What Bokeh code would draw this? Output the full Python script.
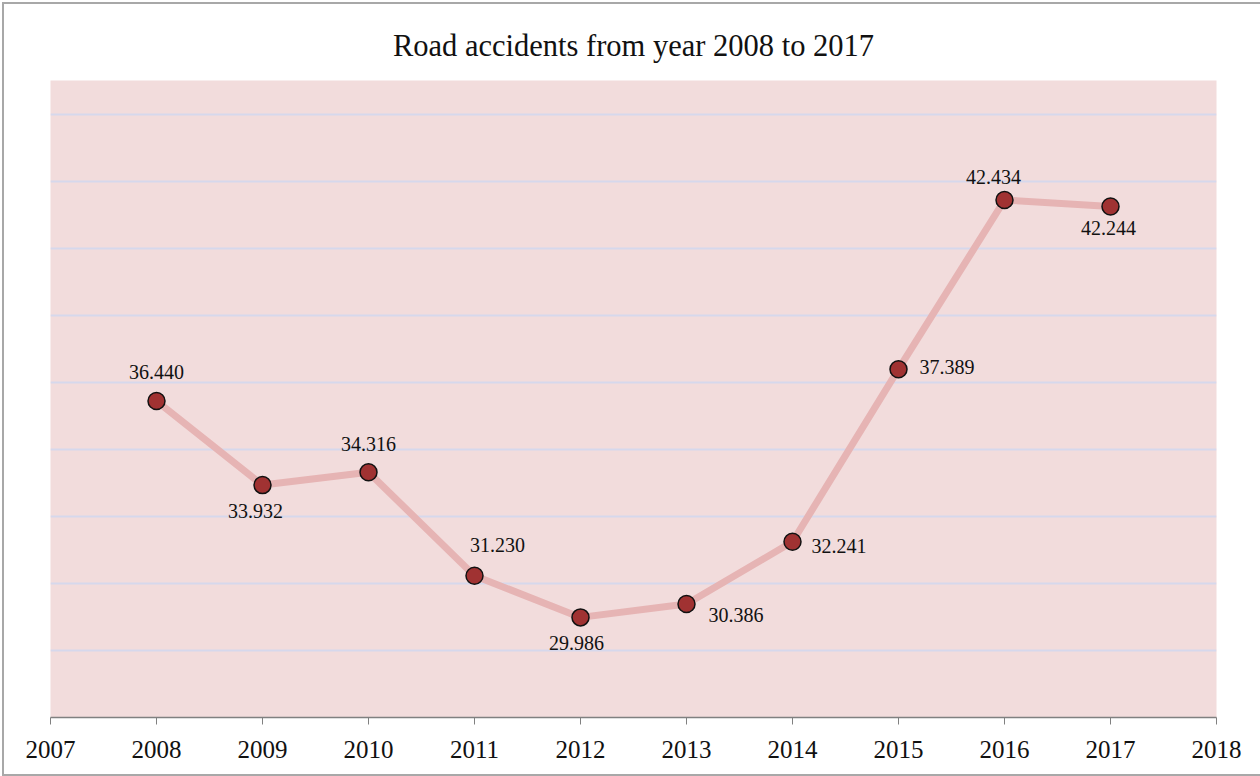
from bokeh.plotting import figure
from bokeh.models import ColumnDataSource, FixedTicker, Title, InlineStyleSheet
from bokeh.core.properties import value
from bokeh.embed import file_html
from bokeh.resources import INLINE

# ---- data ----
years = [2008, 2009, 2010, 2011, 2012, 2013, 2014, 2015, 2016, 2017]
accidents = [36.440, 33.932, 34.316, 31.230, 29.986, 30.386, 32.241, 37.389, 42.434, 42.244]
x_ticks = [2007, 2008, 2009, 2010, 2011, 2012, 2013, 2014, 2015, 2016, 2017, 2018]
grid_levels = [29, 31, 33, 35, 37, 39, 41, 43, 45]

# ---- label placement (screen px, styling only) ----
label_dx = [0, -7, 0, 23, -4, 22, 19, 21, -11, -2]
label_dy = [-29, 26, -28, -31, 26, 11, 4, -2, -23, 22]
label_align = ["center", "center", "center", "center", "center", "left", "left", "left", "center", "center"]

labels = ["%.3f" % v for v in accidents]

src = ColumnDataSource(dict(x=years, y=accidents, txt=labels,
                            dx=label_dx, dy=label_dy, al=label_align))

SERIF = "Liberation Serif"

p = figure(width=1260, height=776, output_backend="svg", toolbar_location=None,
           x_range=(2007, 2018), y_range=(27, 46),
           min_border_left=50, min_border_right=44, min_border_top=80, min_border_bottom=59)

p.title = Title(text="Road accidents from year 2008 to 2017", align="center",
                text_font=SERIF, text_font_size="30.5px", text_font_style="normal",
                text_color="#111111", standoff=35)

p.background_fill_color = "#f2dcdc"
p.border_fill_color = "white"
p.outline_line_color = None
p.stylesheets = [InlineStyleSheet(css=(
    ":host::after { content: ''; position: absolute; left: 2px; top: 2px; "
    "right: -6px; bottom: 0px; border: 2px solid #a8a8a8; "
    "pointer-events: none; z-index: 100; }"))]

p.yaxis.visible = False
p.xgrid.visible = False
p.ygrid.ticker = FixedTicker(ticks=grid_levels)
p.ygrid.grid_line_color = "#d6d8ec"
p.ygrid.grid_line_width = 2

xa = p.xaxis[0]
xa.ticker = FixedTicker(ticks=x_ticks)
xa.minor_tick_line_color = None
xa.major_tick_in = 0
xa.major_tick_out = 7
xa.major_tick_line_color = "#808080"
xa.axis_line_color = "#808080"
xa.axis_line_width = 1.5
xa.major_label_text_font = SERIF
xa.major_label_text_font_size = "25px"
xa.major_label_text_color = "#111111"
xa.major_label_standoff = 16

p.line("x", "y", source=src, line_color="#e6b4b4", line_width=7)
p.scatter("x", "y", source=src, size=17, fill_color="#a03232",
          line_color="#111111", line_width=1.5)
p.text("x", "y", text="txt", source=src, x_offset="dx", y_offset="dy",
       text_align="al", text_baseline="middle",
       text_font=value(SERIF), text_font_size="20px", text_color="#111111")

open("out.html", "w").write(file_html(p, INLINE))
